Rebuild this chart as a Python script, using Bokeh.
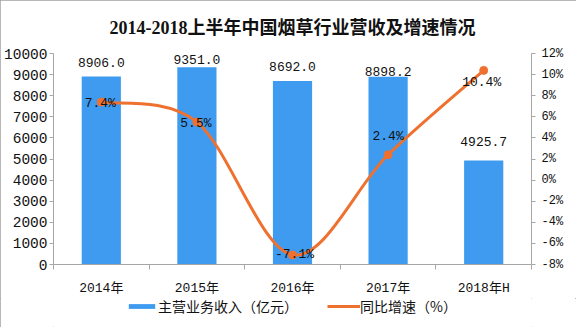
import numpy as np
from bokeh.plotting import figure
from bokeh.layouts import column
from bokeh.models import (Range1d, LinearAxis, FixedTicker, PrintfTickFormatter,
                          Title, Legend, LegendItem, ColumnDataSource)
from bokeh.core.properties import value
from bokeh.embed import file_html
from bokeh.resources import INLINE

# ---- data ----
categories = ["2014年", "2015年", "2016年", "2017年", "2018年H"]
revenue = [8906.0, 9351.0, 8692.0, 8898.2, 4925.7]      # 主营业务收入（亿元）
growth = [7.4, 5.5, -7.1, 2.4, 10.4]                    # 同比增速（%）
left_ticks = [0, 1000, 2000, 3000, 4000, 5000, 6000, 7000, 8000, 9000, 10000]
right_ticks = [-8, -6, -4, -2, 0, 2, 4, 6, 8, 10, 12]
series_names = ["主营业务收入（亿元）", "同比增速（%）"]
title_text = "2014-2018上半年中国烟草行业营收及增速情况"

# ---- label placement (style, not data) ----
bar_label_dy = [-14, -7.5, -15, -5.5, -19.5]   # screen px above bar tops
line_label_dx = [-1, -1, 2, 0, -2]
line_label_dy = [1, 1, -1, -18, 12.5]

MONO = "'Liberation Mono', 'Noto Sans CJK SC', monospace"
CJK = "'Noto Sans CJK SC', sans-serif"
BLUE = "#3f9bf0"
ORANGE = "#ee7130"
AXIS = "#a6a6a6"
FRAME_H = 211

n = len(categories)
xs = np.arange(n) + 0.5

p = figure(width=576, height=298, output_backend="svg", toolbar_location=None,
           x_range=Range1d(0, n), y_range=Range1d(left_ticks[0], left_ticks[-1]),
           min_border_left=52, min_border_right=45, min_border_top=53,
           min_border_bottom=34, background_fill_color="white",
           border_fill_color="white", outline_line_color=None)
p.grid.visible = False
p.extra_y_ranges = {"pct": Range1d(right_ticks[0], right_ticks[-1])}

# x axis
xa = p.xaxis[0]
xa.ticker = FixedTicker(ticks=list(xs), minor_ticks=list(np.arange(n + 1)))
xa.major_label_overrides = {float(x): c for x, c in zip(xs, categories)}
xa.major_tick_line_color = None
xa.major_tick_out = 0
xa.major_tick_in = 0
xa.minor_tick_line_color = AXIS
xa.minor_tick_out = 5
xa.minor_tick_in = 0
xa.axis_line_color = AXIS
xa.major_label_text_font = MONO
xa.major_label_text_font_size = "13px"
xa.major_label_text_color = "#111111"
xa.major_label_standoff = 11

# left axis
ya = p.yaxis[0]
ya.ticker = FixedTicker(ticks=left_ticks)
ya.minor_tick_line_color = None
ya.major_tick_out = 4
ya.major_tick_in = 0
ya.major_tick_line_color = AXIS
ya.axis_line_color = AXIS
ya.major_label_text_font = MONO
ya.major_label_text_font_size = "14.5px"
ya.major_label_text_color = "#111111"
ya.major_label_standoff = 2

# right axis
ra = LinearAxis(y_range_name="pct", ticker=FixedTicker(ticks=right_ticks),
                formatter=PrintfTickFormatter(format="%d%%"))
ra.minor_tick_line_color = None
ra.major_tick_out = 4
ra.major_tick_in = 0
ra.major_tick_line_color = AXIS
ra.axis_line_color = AXIS
ra.major_label_text_font = MONO
ra.major_label_text_font_size = "12px"
ra.major_label_text_color = "#111111"
ra.major_label_standoff = 6
p.add_layout(ra, "right")

# bars
bars = p.vbar(x=xs, top=revenue, width=0.41, fill_color=BLUE, line_color=None)
units_per_px = (left_ticks[-1] - left_ticks[0]) / FRAME_H
lbl_y = np.array(revenue) - np.array(bar_label_dy) * units_per_px
bar_lbl_src = ColumnDataSource(dict(x=xs, y=lbl_y,
                                    lbl=[f"{v:.1f}" for v in revenue]))
p.text(x="x", y="y", text="lbl", source=bar_lbl_src,
       text_align="center", text_baseline="middle",
       text_font=value(MONO), text_font_size="13px", text_color="#111111")

# smoothed growth line (cubic Bezier through the data points)
g = np.array(growth, dtype=float)
gp = np.r_[g[0], g]
gn = np.r_[g, g[-1]]
xp = np.r_[xs[0], xs]
xn = np.r_[xs, xs[-1]]
cx0 = xs[:-1] + (xs[1:] - xp[:-2]) / 6
cy0 = g[:-1] + (g[1:] - gp[:-2]) / 6
cx1 = xs[1:] - (xn[2:] - xs[:-1]) / 6
cy1 = g[1:] - (gn[2:] - g[:-1]) / 6
p.bezier(x0=xs[:-1], y0=g[:-1], x1=xs[1:], y1=g[1:],
         cx0=cx0, cy0=cy0, cx1=cx1, cy1=cy1,
         line_color=ORANGE, line_width=3, y_range_name="pct")
p.scatter(x=xs, y=g, size=8, marker="circle", fill_color=ORANGE,
          line_color=ORANGE, y_range_name="pct")
line_src = ColumnDataSource(dict(x=xs, y=g, lbl=[f"{v:.1f}%" for v in growth],
                                 dx=line_label_dx, dy=line_label_dy))
p.text(x="x", y="y", text="lbl", x_offset="dx", y_offset="dy", source=line_src,
       y_range_name="pct", text_align="center", text_baseline="middle",
       text_font=value(MONO), text_font_size="13px", text_color="#111111")

# title (spacer title nearest the frame pushes the real one up)
p.add_layout(Title(text=" ", text_font_size="8px", standoff=0), "above")
p.add_layout(Title(text=title_text, align="center", offset=-3,
                   text_font="'Liberation Serif', 'Noto Sans CJK SC', serif",
                   text_font_style="bold", text_font_size="18px",
                   text_color="#111111"), "above")

# legend strip below the chart (its proxy marks lie outside its view)
q = figure(width=576, height=29, output_backend="svg", toolbar_location=None,
           x_axis_type=None, y_axis_type=None, min_border=0,
           outline_line_color=None, background_fill_color="white",
           border_fill_color="white", x_range=Range1d(-3, -2),
           y_range=Range1d(-3, -2))
q.grid.visible = False
lg_bar = q.vbar(x=xs, top=revenue, width=0.41, fill_color=BLUE, line_color=None)
lg_line = q.line(x=xs, y=g, line_color=ORANGE, line_width=3)
lg_dot = q.scatter(x=xs, y=g, size=8, marker="circle", fill_color=ORANGE,
                   line_color=ORANGE)
legend = Legend(items=[LegendItem(label=series_names[0], renderers=[lg_bar]),
                       LegendItem(label=series_names[1], renderers=[lg_line, lg_dot])],
                location=(72, 11), orientation="horizontal",
                glyph_width=33, glyph_height=6, label_height=16,
                label_standoff=0, spacing=29, padding=0, margin=0,
                border_line_color=None, background_fill_alpha=0,
                label_text_font=CJK, label_text_font_size="14px",
                label_text_color="#111111")
q.add_layout(legend)

layout = column(p, q, spacing=0)
layout.styles = {"outline": "1px solid #a0a0a0", "outline-offset": "-1px"}

open("out.html", "w").write(file_html(layout, INLINE))
